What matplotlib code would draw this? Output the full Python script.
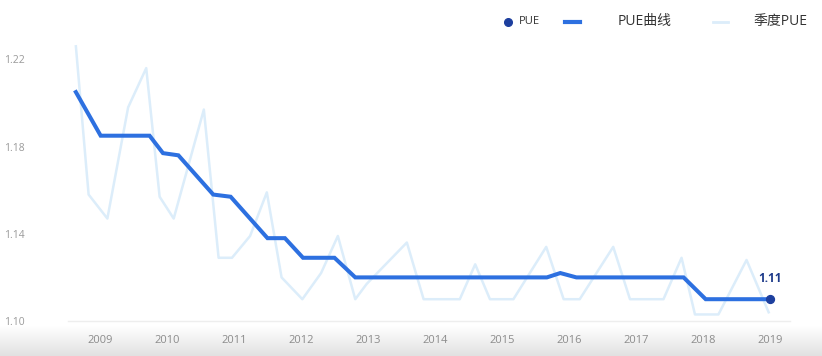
import numpy as np
import matplotlib.pyplot as plt
from matplotlib.lines import Line2D

plt.rcParams['font.family'] = ['Open Sans', 'Noto Sans CJK SC', 'DejaVu Sans']

# trailing PUE curve (decimal year, value)
pue_years = [2008.64, 2009.01, 2009.74, 2009.94, 2010.17, 2010.69, 2010.95,
             2011.50, 2011.76, 2012.03, 2012.50, 2012.81, 2015.67, 2015.87,
             2016.11, 2017.71, 2018.04, 2019.00]
pue_values = [1.205, 1.185, 1.185, 1.177, 1.176, 1.158, 1.157,
              1.138, 1.138, 1.129, 1.129, 1.120, 1.120, 1.122,
              1.120, 1.120, 1.110, 1.110]

# quarterly PUE
q_years = [2008.64, 2008.83, 2009.11, 2009.42, 2009.69, 2009.89, 2010.10,
           2010.55, 2010.77, 2010.97, 2011.24, 2011.49, 2011.71, 2012.02,
           2012.30, 2012.55, 2012.81, 2012.98, 2013.58, 2013.83, 2014.37,
           2014.60, 2014.82, 2015.17, 2015.66, 2015.92, 2016.16, 2016.66,
           2016.91, 2017.41, 2017.68, 2017.88, 2018.23, 2018.65, 2018.98]
q_values = [1.226, 1.158, 1.147, 1.198, 1.216, 1.157, 1.147,
            1.197, 1.129, 1.129, 1.139, 1.159, 1.120, 1.110,
            1.122, 1.139, 1.110, 1.117, 1.136, 1.110, 1.110,
            1.126, 1.110, 1.110, 1.134, 1.110, 1.110, 1.134,
            1.110, 1.110, 1.129, 1.103, 1.103, 1.128, 1.104]

year_ticks = list(range(2009, 2020))
y_ticks = [1.10, 1.14, 1.18, 1.22]

W, H = 822, 356
fig = plt.figure(figsize=(W / 100, H / 100), dpi=100)

# faint shading along the bottom edge
bg = fig.add_axes([0, 0, 1, 30 / H], zorder=0)
shade = np.linspace(1.0, 0.94, 64) ** 2
grad = np.repeat(shade.reshape(-1, 1, 1), 3, axis=2)
bg.imshow(grad, aspect='auto', extent=[0, 1, 0, 1], origin='upper')
bg.axis('off')

ax = fig.add_axes([68 / W, 35 / H, (790 - 68) / W, (321 - 40) / H], zorder=1)
ax.patch.set_alpha(0)

ax.plot(q_years, q_values, color='#dcedfa', lw=1.8, zorder=1)
ax.plot(pue_years, pue_values, color='#2d70e0', lw=2.9, zorder=2,
        solid_joinstyle='miter')
ax.scatter([pue_years[-1]], [pue_values[-1]], s=32, color='#1d3f9e', zorder=3)
ax.annotate(f'{pue_values[-1]:.2f}', (pue_years[-1], pue_values[-1]),
            xytext=(0, 15), textcoords='offset points', ha='center',
            va='center', fontsize=8.5, fontweight='bold', color='#1d3a8a')

ax.set_xlim(2009 + (68 - 100) / 67, 2009 + (790 - 100) / 67)
ax.set_ylim(1.10, 1.10 + 281 / 2180)

ax.set_xticks(year_ticks)
ax.set_xticklabels([str(y) for y in year_ticks])
ax.set_yticks(y_ticks)
ax.set_yticklabels([f'{v:.2f}' for v in y_ticks])
ax.tick_params(axis='x', length=0, pad=10, labelsize=8, labelcolor='#8c8c8c')
ax.tick_params(axis='y', length=0, pad=31, labelsize=7.5, labelcolor='#9a9a9a')

for s in ['top', 'right', 'left']:
    ax.spines[s].set_visible(False)
ax.spines['bottom'].set_color('#eeeeee')
ax.spines['bottom'].set_linewidth(1)

# legend drawn by hand at the top right
ly = 1 - 22 / H
fig.add_artist(Line2D([508 / W], [ly], marker='o', ms=5.5, color='#1d3f9e',
                      transform=fig.transFigure))
fig.text(519 / W, ly, 'PUE', fontsize=8, color='#333333', va='center')
fig.add_artist(Line2D([565 / W, 580 / W], [ly, ly], lw=3, color='#2d70e0',
                      transform=fig.transFigure))
fig.text(618 / W, ly, 'PUE曲线', fontsize=10, color='#333333', va='center')
fig.add_artist(Line2D([713 / W, 728 / W], [ly, ly], lw=2, color='#dcedfa',
                      transform=fig.transFigure))
fig.text(753 / W, ly, '季度PUE', fontsize=10, color='#333333', va='center')

fig.savefig('out.png', dpi=100)
